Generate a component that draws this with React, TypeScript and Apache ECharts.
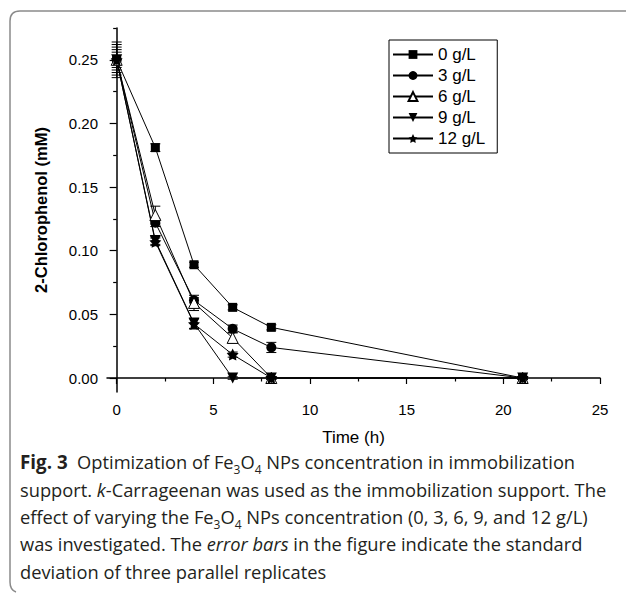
import React, { useEffect, useRef } from "react";
import * as echarts from "echarts";

const times = [0, 2, 4, 6, 8, 21];
const seriesNames = ["0 g/L", "3 g/L", "6 g/L", "9 g/L", "12 g/L"];
const values0 = [0.25, 0.181, 0.089, 0.0555, 0.0398, 0.0];
const values3 = [0.25, 0.122, 0.061, 0.0386, 0.024, 0.0];
const values6 = [0.25, 0.128, 0.059, 0.0315, 0.0, 0.0];
const values9 = [0.25, 0.108, 0.043, 0.0, 0.0, 0.0];
const values12 = [0.25, 0.107, 0.0425, 0.0184, 0.0, 0.0];
const err0 = [0.014, 0.003, 0.002, 0.002, 0.002, 0.001];
const err3 = [0.008, 0.003, 0.002, 0.003, 0.004, 0.001];
const err6 = [0.01, 0.007, 0.006, 0.004, 0.001, 0.001];
const err9 = [0.012, 0.003, 0.004, 0.001, 0.001, 0.001];
const err12 = [0.006, 0.003, 0.004, 0.002, 0.001, 0.001];

const yTicks = [0, 0.05, 0.1, 0.15, 0.2, 0.25];
const yMinorTicks = [0.025, 0.075, 0.125, 0.175, 0.225, 0.275];
const xTicks = [0, 5, 10, 15, 20, 25];
const xMinorTicks = [2.5, 7.5, 12.5, 17.5, 22.5];

const captionLines = [
  "{b|Fig. 3}  Optimization of Fe{s|3}O{s|4} NPs concentration in immobilization",
  "support. {i|k}-Carrageenan was used as the immobilization support. The",
  "effect of varying the Fe{s|3}O{s|4} NPs concentration (0, 3, 6, 9, and 12 g/L)",
  "was investigated. The {i|error bars} in the figure indicate the standard",
  "deviation of three parallel replicates",
];

const allValues = [values0, values3, values6, values9, values12];
const allErrs = [err0, err3, err6, err9, err12];

const symbols = [
  "rect",
  "circle",
  "triangle",
  "path://M0,0 L10,0 L5,9 Z",
  "path://M5,0 L6.53,2.9 L9.76,3.46 L7.47,5.8 L7.94,9.05 L5,7.6 L2.06,9.05 L2.53,5.8 L0.24,3.46 L3.47,2.9 Z",
];
const symbolSizes = [9, 10, 11, 11, 12];

const FRAME_D = "M626,11 L20,11 Q10,11 10,21 L10,582 Q10,590 16,592";

export default function App() {
  const ref = useRef<HTMLDivElement>(null);
  useEffect(() => {
    if (!ref.current) return;
    try {
      echarts.graphic.registerShape("frameLine", echarts.graphic.extendPath(FRAME_D, {}) as any);
    } catch (e) {}
    const chart = echarts.init(ref.current, undefined, { renderer: "svg" });
    const axisFont = "Liberation Sans";
    const capFont = "Open Sans";

    const lineSeries = seriesNames.map((name, i) => ({
      name,
      type: "line",
      xAxisIndex: 0,
      yAxisIndex: 0,
      data: times.map((t, j) => [t, allValues[i][j]]),
      symbol: symbols[i],
      symbolSize: symbolSizes[i],
      showAllSymbol: true,
      lineStyle: { color: "#000", width: 1 },
      itemStyle:
        i === 2
          ? { color: "#fff", borderColor: "#000", borderWidth: 1 }
          : { color: "#000", borderColor: "#000", borderWidth: 0 },
      emphasis: { disabled: true },
      z: 3,
    }));

    const errData: number[][] = [];
    allValues.forEach((vals, i) => {
      vals.forEach((v, j) => errData.push([times[j], v, allErrs[i][j]]));
    });

    const errSeries = {
      type: "custom",
      xAxisIndex: 0,
      yAxisIndex: 0,
      data: errData,
      z: 2,
      silent: true,
      renderItem: (params: any, api: any) => {
        const x = api.value(0);
        const y = api.value(1);
        const e = api.value(2);
        const top = api.coord([x, y + e]);
        const bot = api.coord([x, y - e]);
        const w = 5;
        const st = { stroke: "#000", lineWidth: 1 };
        return {
          type: "group",
          children: [
            { type: "line", shape: { x1: top[0], y1: top[1], x2: bot[0], y2: bot[1] }, style: st },
            { type: "line", shape: { x1: top[0] - w, y1: top[1], x2: top[0] + w, y2: top[1] }, style: st },
            { type: "line", shape: { x1: bot[0] - w, y1: bot[1], x2: bot[0] + w, y2: bot[1] }, style: st },
          ],
        };
      },
    };

    const option: any = {
      animation: false,
      grid: { left: 107, top: 28, right: 29, bottom: 202, containLabel: false, outerBoundsMode: "none" },
      xAxis: [
        {
          type: "value",
          min: -0.5,
          max: 25,
          position: "bottom",
          name: "Time (h)",
          nameLocation: "middle",
          nameGap: 37,
          nameTextStyle: { fontFamily: axisFont, fontSize: 17, color: "#000" },
          axisLine: { show: true, lineStyle: { color: "#000", width: 1.5 } },
          axisTick: { show: true, customValues: xTicks, length: 6, lineStyle: { color: "#000", width: 1.2 } },
          axisLabel: {
            show: true,
            customValues: xTicks,
            margin: 10,
            fontFamily: axisFont,
            fontSize: 15,
            color: "#000",
          },
          splitLine: { show: false },
        },
        {
          type: "value",
          min: -0.5,
          max: 25,
          position: "bottom",
          axisLine: { show: false },
          axisTick: { show: true, customValues: xMinorTicks, length: 3.5, lineStyle: { color: "#000", width: 1.2 } },
          axisLabel: { show: false },
          splitLine: { show: false },
        },
      ],
      yAxis: [
        {
          type: "value",
          min: -0.011,
          max: 0.275,
          position: "left",
          name: "2-Chlorophenol (mM)",
          nameLocation: "middle",
          nameGap: 58,
          nameRotate: 90,
          nameTextStyle: { fontFamily: axisFont, fontSize: 16.5, fontWeight: "bold", color: "#000" },
          axisLine: { show: true, lineStyle: { color: "#000", width: 1.5 } },
          axisTick: { show: true, customValues: yTicks, length: 7, lineStyle: { color: "#000", width: 1.2 } },
          axisLabel: {
            show: true,
            customValues: yTicks,
            margin: 9,
            fontFamily: axisFont,
            fontSize: 15,
            color: "#000",
            formatter: (v: number) => v.toFixed(2),
          },
          splitLine: { show: false },
        },
        {
          type: "value",
          min: -0.011,
          max: 0.275,
          position: "left",
          axisLine: { show: false },
          axisTick: { show: true, customValues: yMinorTicks, length: 3.5, lineStyle: { color: "#000", width: 1.2 } },
          axisLabel: { show: false },
          splitLine: { show: false },
        },
      ],
      legend: {
        show: true,
        data: seriesNames,
        orient: "vertical",
        left: 389,
        top: 40,
        padding: [6, 12, 6, 3],
        itemGap: 4,
        itemWidth: 40,
        itemHeight: 11,
        borderColor: "#000",
        borderWidth: 1,
        borderRadius: 0,
        selectedMode: false,
        textStyle: { fontFamily: axisFont, fontSize: 17, color: "#000" },
      },
      graphic: [
        {
          type: "frameLine",
          x: 0,
          y: 0,
          silent: true,
          style: { fill: "none", stroke: "#8a8a8a", lineWidth: 1.5 },
        },
        {
          type: "text",
          left: 20,
          top: 448,
          silent: true,
          style: {
            text: captionLines.join("\n"),
            fontFamily: capFont,
            fontSize: 18.3,
            lineHeight: 27.4,
            fill: "#231f20",
            rich: {
              b: { fontFamily: capFont, fontSize: 18.8, fontWeight: "bold", lineHeight: 27.4, fill: "#231f20" },
              i: { fontFamily: capFont, fontSize: 18.3, fontStyle: "italic", lineHeight: 27.4, fill: "#231f20" },
              s: { fontFamily: capFont, fontSize: 12, lineHeight: 18, verticalAlign: "bottom", fill: "#231f20" },
            },
          },
        },
      ],
      series: [...lineSeries, errSeries],
    };
    chart.setOption(option);
    return () => chart.dispose();
  }, []);
  return (
    <div
      ref={ref}
      style={{ position: "fixed", left: 0, top: 0, width: 629, height: 594, background: "#fff" }}
    />
  );
}
